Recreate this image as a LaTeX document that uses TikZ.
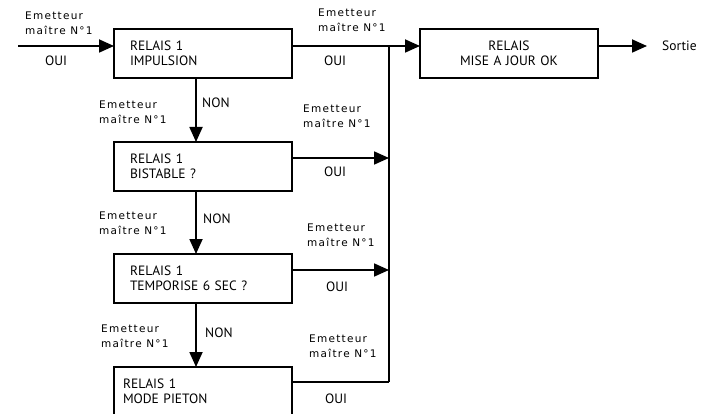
\documentclass[tikz,border=0pt]{standalone}
\usepackage{fontspec}
\setmainfont{PT Sans}
\newfontfamily\lblfont[LetterSpace=12]{DejaVu Sans}
\usetikzlibrary{arrows.meta}
\begin{document}
\begin{tikzpicture}[x=1pt,y=-1pt,
  box/.style={draw, line width=1.4pt, outer sep=0pt, anchor=north west,
    minimum width=178pt, minimum height=49pt, inner xsep=16pt,
    text width=146pt, align=left, font=\fontsize{13.5}{15.5}\selectfont},
  conn/.style={line width=1.8pt},
  arr/.style={conn, -{Triangle[length=15pt,width=13pt]}},
  lbl/.style={font=\lblfont\fontsize{10.5}{15}\selectfont, align=left, anchor=west, inner sep=0pt},
  big/.style={font=\fontsize{13.5}{15.5}\selectfont, inner sep=0pt}
]
\useasboundingbox (0,0) rectangle (701,414);

% boxes
\node[box] (b1) at (114,29) {RELAIS 1\\IMPULSION};
\node[box] (b2) at (114,142) {RELAIS 1\\BISTABLE ?};
\node[box] (b3) at (114,254) {RELAIS 1\\TEMPORISE 6 SEC ?};
\node[box, inner xsep=9pt, text width=160pt] (b4) at (114,367) {RELAIS 1\\MODE PIETON};
\node[box, align=center] (m) at (420,29) {RELAIS\\MISE A JOUR OK};

% coordinates
\coordinate (in) at (18,46);
\coordinate (j) at (389,46);
\coordinate (v) at (196,0);
\coordinate (y2) at (0,158);
\coordinate (y3) at (0,270);
\coordinate (y4) at (0,382);
\coordinate (out) at (647,46);

% connectors
\draw[arr] (in) -- (in -| b1.west);
\draw[arr] (in -| b1.east) -- (in -| m.west);
\draw[arr] (in -| m.east) -- (out);
\draw[conn] (j) -- (j |- y4);
\draw[arr] (y2 -| b2.east) -- (y2 -| j);
\draw[arr] (y3 -| b3.east) -- (y3 -| j);
\draw[conn] (y4 -| b4.east) -- (y4 -| j);
\draw[arr] (v |- b1.south) -- (v |- b2.north);
\draw[arr] (v |- b2.south) -- (v |- b3.north);
\draw[arr] (v |- b3.south) -- (v |- b4.north);

% labels
\node[lbl] (l0) at (25,23.5) {Emetteur\\maître N°1};
\node[lbl] (r0) at (318,20.5) {Emetteur\\maître N°1};
\node[lbl] (l1) at (99,112.5) {Emetteur\\maître N°1};
\node[lbl] (r1) at (303,116) {Emetteur\\maître N°1};
\node[lbl] (l2) at (99,223) {Emetteur\\maître N°1};
\node[lbl] (r2) at (307,235) {Emetteur\\maître N°1};
\node[lbl] (l3) at (101,336) {Emetteur\\maître N°1};
\node[lbl] (r3) at (309,346.5) {Emetteur\\maître N°1};

\node[big] (o0) at (56,61) {OUI};
\node[big] (o1) at (335,61) {OUI};
\node[big] (o2) at (335,172) {OUI};
\node[big] (o3) at (337,287) {OUI};
\node[big] (o4) at (336,399) {OUI};

\node[big, anchor=west] (n1) at (202,103) {NON};
\node[big, anchor=west] (n2) at (203,219) {NON};
\node[big, anchor=west] (n3) at (205,333) {NON};

\node[big, anchor=west] (s) at (662,46) {Sortie};
\end{tikzpicture}
\end{document}
